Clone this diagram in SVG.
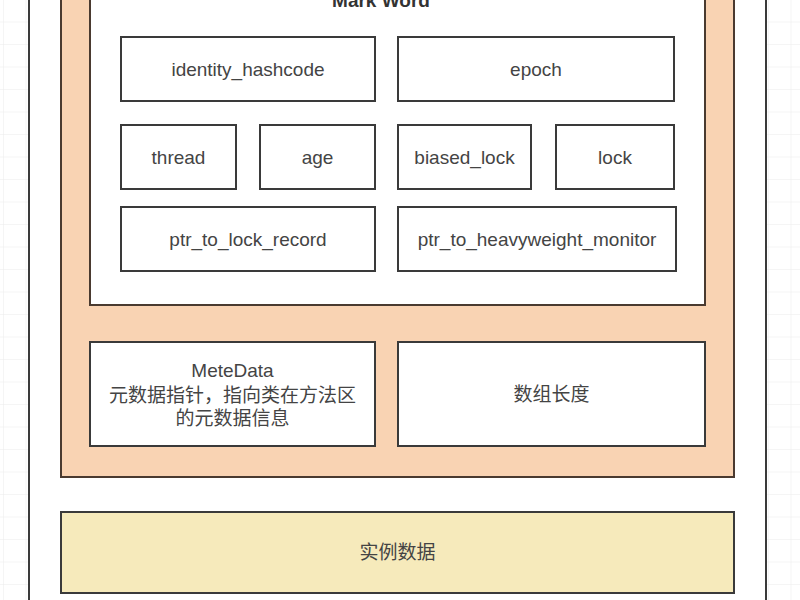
<svg xmlns="http://www.w3.org/2000/svg" width="800" height="600" viewBox="0 0 800 600">
<defs>
<pattern id="grid" width="22.5" height="22.5" patternUnits="userSpaceOnUse" x="4" y="0">
<path d="M22.5 0 V22.5 M0 22.5 H22.5" fill="none" stroke="#ececec" stroke-width="1"/>
</pattern>
<style>
.field{fill:#ffffff;stroke:#3a3a3a;stroke-width:2}
.t{font-family:"Liberation Sans","Noto Sans CJK SC",sans-serif;font-size:19px;fill:#444;text-anchor:middle;dominant-baseline:central}
</style>
</defs>
<rect x="0" y="0" width="800" height="600" fill="#ffffff"/>
<rect x="0" y="0" width="800" height="600" fill="url(#grid)"/>
<g id="object">
<rect x="29" y="-10" width="737" height="620" fill="#ffffff" stroke="#3a3a3a" stroke-width="2"/>
</g>
<g id="header">
<rect x="61" y="-10" width="673" height="487" fill="#f9d3b3" stroke="#4a3a30" stroke-width="2"/>
</g>
<g id="markword">
<rect x="90" y="-10" width="615" height="315" fill="#ffffff" stroke="#4a3a30" stroke-width="2"/>
<text x="381" y="0" class="t" style="font-weight:bold;fill:#333">Mark Word</text>
</g>
<g id="identity_hashcode"><rect class="field" x="121" y="37" width="254" height="64"/><text class="t" x="248" y="69">identity_hashcode</text></g>
<g id="epoch"><rect class="field" x="398" y="37" width="276" height="64"/><text class="t" x="536" y="69">epoch</text></g>
<g id="thread"><rect class="field" x="121" y="125" width="115" height="64"/><text class="t" x="178.5" y="157">thread</text></g>
<g id="age"><rect class="field" x="260" y="125" width="115" height="64"/><text class="t" x="317.5" y="157">age</text></g>
<g id="biased_lock"><rect class="field" x="398" y="125" width="133" height="64"/><text class="t" x="464.5" y="157">biased_lock</text></g>
<g id="lock"><rect class="field" x="556" y="125" width="118" height="64"/><text class="t" x="615" y="157">lock</text></g>
<g id="ptr_to_lock_record"><rect class="field" x="121" y="207" width="254" height="64"/><text class="t" x="248" y="239">ptr_to_lock_record</text></g>
<g id="ptr_to_heavyweight_monitor"><rect class="field" x="398" y="207" width="278" height="64"/><text class="t" x="537" y="239">ptr_to_heavyweight_monitor</text></g>
<g id="metadata"><rect class="field" x="90" y="342" width="285" height="104"/>
<text class="t" x="232.5" y="370">MeteData</text>
<text class="t" x="232.5" y="395">元数据指针，指向类在方法区</text>
<text class="t" x="232.5" y="418">的元数据信息</text></g>
<g id="array_length"><rect class="field" x="398" y="342" width="307" height="104"/><text class="t" x="551.5" y="394">数组长度</text></g>
<g id="instance_data"><rect x="61" y="512" width="673" height="81" fill="#f6eabb" stroke="#3a3a3a" stroke-width="2"/><text class="t" x="397.5" y="552">实例数据</text></g>
<g id="connectors"></g>
</svg>
